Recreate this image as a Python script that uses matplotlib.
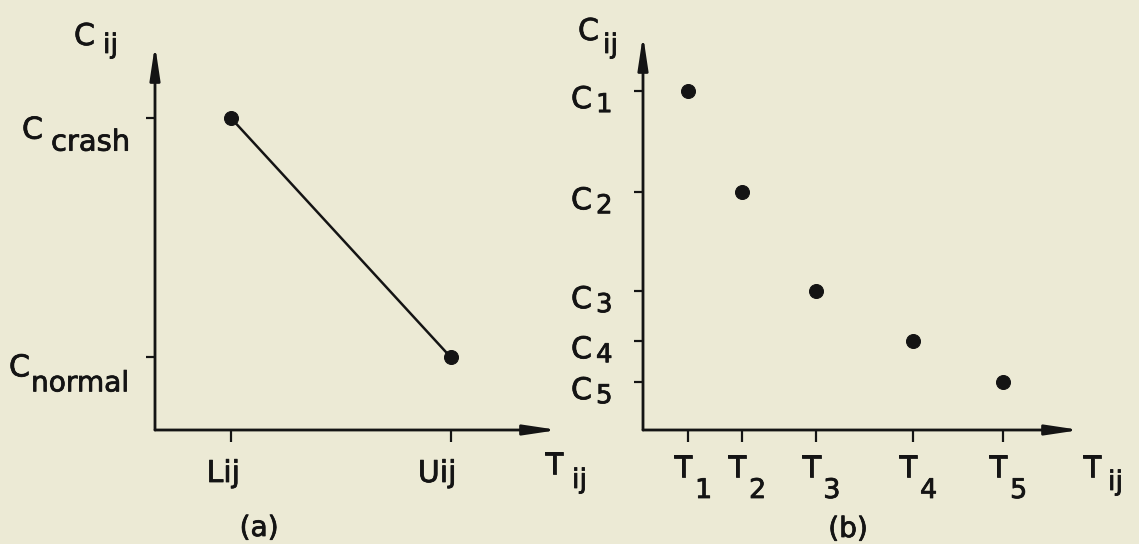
import matplotlib
matplotlib.use("Agg")
import matplotlib.pyplot as plt
import matplotlib.patheffects as pe

# data (schematic units)
# (a) linear time-cost trade-off
a_times = [1.0, 4.0]            # L_ij, U_ij
a_costs = [4.3, 1.0]            # C_crash, C_normal
a_xlabels = ["Lij", "Uij"]
a_ylabels = [("C", "crash"), ("C", "normal")]

# (b) discrete time-cost alternatives
b_times = [1.0, 2.2, 3.85, 6.0, 8.0]
b_costs = [7.37, 5.17, 3.02, 1.93, 1.04]
b_xlabels = ["1", "2", "3", "4", "5"]
b_ylabels = ["1", "2", "3", "4", "5"]

INK = "#141414"
BG = "#ecead5"
W, H = 1139, 544
HEAVY = [pe.withStroke(linewidth=0.8, foreground=INK)]

plt.rcParams["font.family"] = ["DejaVu Sans"]
fig = plt.figure(figsize=(W / 72, H / 72), dpi=72, facecolor=BG)


def px_axes(x0, y0, x1, y1):
    # axes from pixel box (left, top, right, bottom)
    return fig.add_axes([x0 / W, 1 - y1 / H, (x1 - x0) / W, (y1 - y0) / H])


def setup(ax, xlim, ylim, xt, yt):
    ax.set_facecolor("none")
    ax.set_xlim(*xlim)
    ax.set_ylim(*ylim)
    for s in ax.spines.values():
        s.set_visible(False)
    ax.set_xticks(xt, labels=[])
    ax.set_yticks(yt, labels=[])
    ax.tick_params(axis="x", direction="out", length=12, width=2.2, color=INK)
    ax.tick_params(axis="y", direction="out", length=9, width=2.2, color=INK)
    arrow = dict(arrowstyle="-|>,head_length=2.8,head_width=0.42", lw=2.8,
                 color=INK, shrinkA=0, shrinkB=0, mutation_scale=10)
    ax.annotate("", xy=(1, 0), xytext=(0, 0), xycoords="axes fraction", arrowprops=arrow)
    ax.annotate("", xy=(0, 1), xytext=(0, 0), xycoords="axes fraction", arrowprops=arrow)


def txt(ax, xy, coords, s, off, size=30, ha="left"):
    ax.annotate(s, xy=xy, xycoords=coords, xytext=off, textcoords="offset points",
                fontsize=size, ha=ha, va="baseline", color=INK, annotation_clip=False,
                path_effects=HEAVY)


# ---- panel (a)
ax1 = px_axes(155, 45, 558, 430)
setup(ax1, (-0.03, 5.46), (0, 5.3), a_times, a_costs)
ax1.plot(a_times, a_costs, color=INK, lw=2.5, marker="o", ms=14, mfc=INK, mec=INK)

# y tick labels
txt(ax1, (0, a_costs[0]), ("axes fraction", "data"), a_ylabels[0][0], (-133, -21))
txt(ax1, (0, a_costs[0]), ("axes fraction", "data"), a_ylabels[0][1], (-104, -33), size=29)
txt(ax1, (0, a_costs[1]), ("axes fraction", "data"), a_ylabels[1][0], (-146, -19))
txt(ax1, (0, a_costs[1]), ("axes fraction", "data"), a_ylabels[1][1], (-124, -34), size=28)
# x tick labels
txt(ax1, (a_times[0], 0), ("data", "axes fraction"), a_xlabels[0], (-24, -52))
txt(ax1, (a_times[1], 0), ("data", "axes fraction"), a_xlabels[1], (-33, -52))
# axis names
txt(ax1, (0, 1), "axes fraction", "C", (-81, 0))
txt(ax1, (0, 1), "axes fraction", "ij", (-52, -8), size=27)
txt(ax1, (1, 0), "axes fraction", "T", (-13, -44))
txt(ax1, (1, 0), "axes fraction", "ij", (14, -58), size=27)

# ---- panel (b)
ax2 = px_axes(643, 35, 1080, 430)
setup(ax2, (0, 9.71), (0, 8.59), b_times, b_costs)
ax2.plot(b_times, b_costs, ls="none", marker="o", ms=14, mfc=INK, mec=INK)

for c, lab in zip(b_costs, b_ylabels):
    txt(ax2, (0, c), ("axes fraction", "data"), "C", (-72, -17))
    txt(ax2, (0, c), ("axes fraction", "data"), lab, (-47, -21), size=26)
for t, lab in zip(b_times, b_xlabels):
    txt(ax2, (t, 0), ("data", "axes fraction"), "T", (-14, -47))
    txt(ax2, (t, 0), ("data", "axes fraction"), lab, (7, -68), size=27)

txt(ax2, (0, 1), "axes fraction", "C", (-65, -5))
txt(ax2, (0, 1), "axes fraction", "ij", (-40, -18), size=27)
txt(ax2, (1, 0), "axes fraction", "T", (3, -47))
txt(ax2, (1, 0), "axes fraction", "ij", (28, -60), size=27)

# panel captions
for x, y, s in [(259, 528, "(a)"), (848, 529, "(b)")]:
    fig.text(x / W, 1 - y / H, s, ha="center", va="center", fontsize=28, color=INK,
             path_effects=HEAVY)

fig.savefig("out.png", dpi=72, facecolor=BG)
